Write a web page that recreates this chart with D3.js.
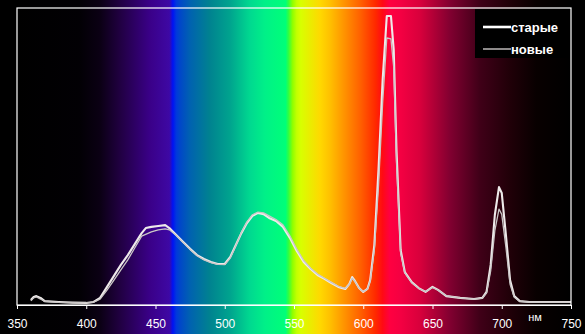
<!DOCTYPE html>
<html lang="ru">
<head>
<meta charset="UTF-8">
<title>Спектр</title>
<style>
  body { margin: 0; background: #000; }
  svg { display: block; }
</style>
</head>
<body>
<script src="https://d3js.org/d3.v7.min.js"></script>
<script>
    var width = 585,
        height = 334;

    // wavelengths (nm) and relative intensity
    var oldNm  = [360,362,364,367,370,380,390,400,405,410,415,420,425,430,435,440,443,447,452,457,460,465,470,475,480,485,490,495,500,504,508,512,516,520,524,528,532,537,542,547,552,557,562,567,572,577,582,587,590,592,594,597,600,603,605,608,611,614,617,620,622,624,627,630,635,640,645,650,654,660,670,680,686,689,692,695,698,700,703,706,709,713,720,750];
    var oldVal = [1.7,2.7,3.0,2.4,1.3,1.0,0.8,0.7,1.0,2.4,6.1,9.8,13.5,16.8,20.5,24.2,25.9,26.3,26.6,26.9,25.9,23.6,21.2,18.9,16.8,15.5,14.5,13.8,13.8,16.2,20.2,24.2,27.6,30.0,31.0,30.6,29.3,28.3,26.3,22.6,18.2,14.5,12.1,10.1,8.8,7.4,6.1,5.4,7.1,9.4,8.1,5.7,4.4,5.4,8.4,20.2,45.5,75.8,97.3,97.3,85.9,52.2,18.5,11.1,7.7,5.7,4.4,6.1,5.1,3.0,2.4,2.0,2.4,4.4,13.5,30.3,39.7,37.7,23.6,8.4,3.0,1.3,1.0,1.0];

    var newNm  = [360,362,364,367,370,380,390,400,405,410,415,420,425,430,435,440,447,452,457,460,465,470,475,480,485,490,495,500,504,508,512,516,520,524,528,532,537,542,547,552,557,562,567,572,577,582,587,590,592,594,597,600,603,605,608,611,614,617,620,622,624,627,630,635,640,645,650,654,660,670,680,686,689,692,695,698,700,703,706,709,713,720,750];
    var newVal = [1.4,2.4,2.7,2.0,1.2,0.9,0.8,0.7,0.9,2.0,5.0,8.4,11.8,15.2,19.2,23.2,24.6,25.3,25.6,25.3,23.4,21.0,18.7,16.6,15.2,14.3,13.7,13.6,15.8,20.0,24.4,28.0,30.4,31.3,31.0,30.0,28.8,27.0,23.3,18.8,15.0,12.4,10.4,9.0,7.6,6.3,5.6,7.0,9.0,7.9,5.6,4.5,5.3,8.0,18.5,40.0,68.0,89.9,89.6,80.0,48.0,17.5,10.8,7.5,5.6,4.5,5.9,5.0,3.1,2.4,2.0,2.3,4.0,11.5,25.0,32.3,30.5,19.5,7.0,2.6,1.2,1.0,1.0];

    var tickNm = [350,400,450,500,550,600,650,700,750];
    var seriesNames = ["старые", "новые"];

    // visible-spectrum colour stops behind the plot
    var specNm  = [350,395,410,424,446,460,462.5,465,468,475,489,504,518,529,544,546,549,552,555,569,576,587,598,609,614,619,627,641,663,684,706,725,750];
    var specCol = ["#000000","#020004","#0b0014","#200040","#3a0088","#3e08a4","#0012f4","#0038dc","#0048c8","#0062b0","#008290","#00a48e","#00d890","#00f088","#00ff78","#30ff40","#90ff00","#c4ff00","#d8ff00","#ffd800","#ffc000","#ff9000","#ff6000","#ff2800","#ff0a14","#ff0040","#f40042","#d8003c","#800030","#400018","#200008","#080000","#000000"];

    var x = d3.scaleLinear().domain([350, 750]).range([17, 571]);
    var y = d3.scaleLinear().domain([0, 100]).range([305, 8]);

    var svg = d3.select("body")
        .append("svg")
        .attr("width", width)
        .attr("height", height);

    var grad = svg.append("defs").append("linearGradient")
        .attr("id", "spec")
        .attr("gradientUnits", "userSpaceOnUse")
        .attr("x1", x(350)).attr("x2", x(750))
        .attr("y1", 0).attr("y2", 0);

    grad.selectAll("stop").data(specNm)
        .enter().append("stop")
        .attr("offset", function(d){ return (d - 350) / 400; })
        .attr("stop-color", function(d, i){ return specCol[i]; });

    svg.append("rect")
        .attr("width", width).attr("height", height)
        .attr("fill", "url(#spec)");

    var line = d3.line()
        .x(function(d){ return x(d[0]); })
        .y(function(d){ return y(d[1]); });

    var oldData = d3.zip(oldNm, oldVal),
        newData = d3.zip(newNm, newVal);

    svg.append("path").datum(oldData)
        .attr("d", line)
        .attr("fill", "none")
        .attr("stroke", "#eeeaea")
        .attr("stroke-width", 2.1)
        .attr("stroke-linejoin", "round");

    svg.append("path").datum(newData)
        .attr("d", line)
        .attr("fill", "none")
        .attr("stroke", "#cac6c6")
        .attr("stroke-width", 1.3)
        .attr("stroke-linejoin", "round");

    // frame
    svg.append("rect")
        .attr("x", x(350)).attr("y", y(100))
        .attr("width", x(750) - x(350)).attr("height", y(0) - y(100))
        .attr("fill", "none")
        .attr("stroke", "#ffffff")
        .attr("stroke-width", 1.2);

    var xAxis = d3.axisBottom(x)
        .tickValues(tickNm)
        .tickSize(4)
        .tickSizeOuter(0)
        .tickPadding(10)
        .tickFormat(d3.format("d"));

    var gx = svg.append("g")
        .attr("transform", "translate(0," + y(0) + ")")
        .call(xAxis);
    gx.select(".domain").attr("stroke", "#fff").attr("stroke-width", 1.2);
    gx.selectAll(".tick line").attr("stroke", "#fff");
    gx.selectAll(".tick text")
        .attr("fill", "#fff")
        .style("font-family", "'Liberation Sans', Arial, sans-serif")
        .style("font-size", "12px");

    svg.append("text")
        .attr("x", 535).attr("y", 321)
        .attr("text-anchor", "middle")
        .attr("fill", "#fff")
        .style("font-family", "'Liberation Sans', Arial, sans-serif")
        .style("font-size", "11px")
        .text("нм");

    // legend
    var lg = svg.append("g");
    lg.append("rect")
        .attr("x", 475).attr("y", 9)
        .attr("width", 95).attr("height", 49)
        .attr("fill", "#000");

    var legY = [27, 49],
        legW = [2.6, 1.4],
        legC = ["#ffffff", "#cac6c6"];

    var item = lg.selectAll("g.item").data(seriesNames)
        .enter().append("g").attr("class", "item")
        .attr("transform", function(d, i){ return "translate(0," + legY[i] + ")"; });

    item.append("line")
        .attr("x1", 483).attr("x2", 511)
        .attr("stroke", function(d, i){ return legC[i]; })
        .attr("stroke-width", function(d, i){ return legW[i]; });

    item.append("text")
        .attr("x", 511).attr("y", 4.5)
        .attr("fill", "#fff")
        .style("font-family", "'Liberation Sans', Arial, sans-serif")
        .style("font-size", "13px")
        .style("font-weight", "bold")
        .text(function(d){ return d; });
</script>
</body>
</html>
